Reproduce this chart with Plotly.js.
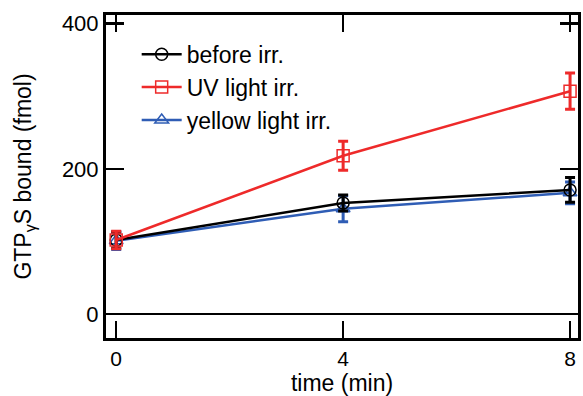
<!DOCTYPE html>
<html>
<head>
<meta charset="utf-8">
<script src="https://cdn.plot.ly/plotly-3.0.1.min.js"></script>
<style>html,body{margin:0;padding:0;background:#fff;}#chart{width:583px;height:396px;}</style>
</head>
<body>
<div id="chart"></div>
<script>
var timeMin = [0, 4, 8];
var beforeIrr = [102, 153, 171];
var beforeErr = [11, 11, 17];
var uvIrr = [102, 218, 307];
var uvErr = [12, 20, 25];
var yellowIrr = [101, 145, 167];
var yellowErr = [12, 18, 15];
var seriesNames = ['before irr.', 'UV light irr.', 'yellow light irr.'];

function tr(y, err, name, color, symbol, rank) {
  return {
    x: timeMin, y: y, name: name, type: 'scatter', mode: 'lines+markers', legendrank: rank,
    line: {color: color, width: 2.5},
    marker: {symbol: symbol, size: 12, color: color, line: {color: color, width: 1.5}},
    error_y: {type: 'data', array: err, visible: true, color: color, thickness: 3, width: 5}
  };
}

var data = [
  tr(yellowIrr, yellowErr, seriesNames[2], '#2f5db5', 'triangle-up-open', 3),
  tr(beforeIrr, beforeErr, seriesNames[0], '#000000', 'circle-open', 1),
  tr(uvIrr, uvErr, seriesNames[1], '#ee2a2a', 'square-open', 2)
];

var layout = {
  width: 583, height: 396,
  margin: {l: 106, r: 5, t: 15, b: 58},
  paper_bgcolor: '#fff', plot_bgcolor: '#fff',
  font: {family: 'Liberation Sans, Arial, sans-serif', size: 22, color: '#000'},
  showlegend: true,
  legend: {x: 0.065, y: 0.945, xanchor: 'left', yanchor: 'top', traceorder: 'normal',
           font: {size: 23}, bgcolor: 'rgba(0,0,0,0)', tracegroupgap: 0, itemwidth: 40},
  xaxis: {
    range: [-0.18, 8.14], tickvals: timeMin, ticktext: ['0', '4', '8'],
    ticks: 'inside', ticklen: 17, tickwidth: 2.5, tickcolor: '#000',
    showline: true, linewidth: 3, linecolor: '#000', mirror: 'ticks',
    showgrid: false, zeroline: false, tickfont: {size: 21},
    title: {text: 'time (min)', font: {size: 23}, standoff: 6}
  },
  yaxis: {
    range: [-33, 412], tickvals: [0, 200, 400],
    ticks: 'inside', ticklen: 18, tickwidth: 2.5, tickcolor: '#000',
    showline: true, linewidth: 3, linecolor: '#000', mirror: 'ticks',
    showgrid: false, zeroline: true, zerolinecolor: '#000', zerolinewidth: 2.5, tickfont: {size: 22},
    title: {text: 'GTP<sub>γ</sub>S bound (fmol)', font: {size: 23}, standoff: 24}
  }
};

Plotly.newPlot('chart', data, layout, {displayModeBar: false, staticPlot: true});
</script>
</body>
</html>
